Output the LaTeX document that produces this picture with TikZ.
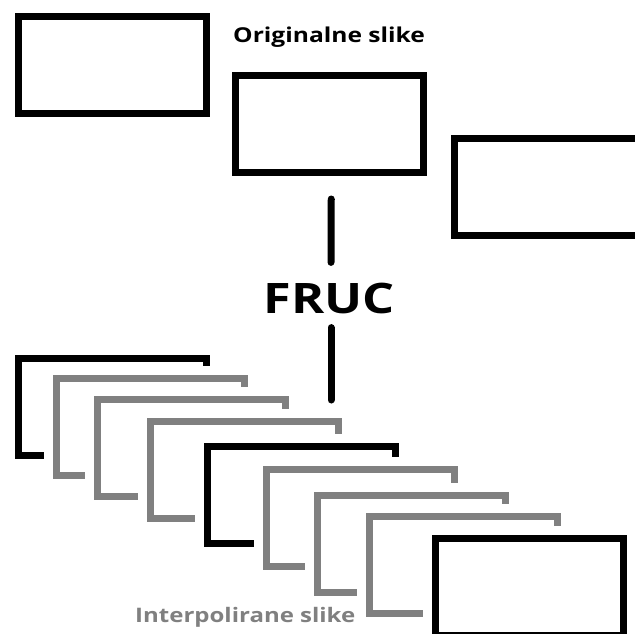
\documentclass[tikz,border=0pt]{standalone}
\usepackage{fontspec}
\setsansfont{Open Sans}[FakeStretch=1.2]
\definecolor{sivo}{RGB}{128,128,128}
\begin{document}
\begin{tikzpicture}[x=1pt,y=-1pt,
  okvir/.style={rectangle,inner sep=0pt,minimum width=187.5pt,minimum height=97pt,
    line width=7pt,fill=white,preaction={draw=white,line width=26pt}},
  crni/.style={okvir,draw=black},
  sivi/.style={okvir,draw=sivo},
  natpis/.style={font=\sffamily\bfseries,inner sep=0pt}]
\clip (0,0) rectangle (635,634);
\fill[white] (0,0) rectangle (635,634);
% originalne slike
\node[crni] (o1) at (112.25,65) {};
\node[crni] (o2) at (329.25,124) {};
\node[crni] (o3) at (548.25,187) {};
\node[natpis,anchor=base west,font=\sffamily\bfseries\fontsize{20.5}{24}\selectfont] (t1) at (233,43) {Originalne slike};
\node[natpis,anchor=base,font=\sffamily\bfseries\fontsize{42}{48}\selectfont] (fruc) at (329,313) {FRUC};
\coordinate (kraj) at (331,400);
\draw[line width=7pt,line cap=round] ([xshift=2pt,yshift=-23pt]o2.south) -- ([xshift=2pt,yshift=20pt]fruc.north);
\draw[line width=7pt,line cap=round] ([xshift=2pt,yshift=-14pt]fruc.south) -- (kraj);
% interpolirane slike
\node[crni] (i1) at (112.25,407) {};
\node[sivi] (i2) at (150.25,427) {};
\node[sivi] (i3) at (191.25,448) {};
\node[sivi] (i4) at (244.25,470) {};
\node[crni] (i5) at (301.25,495) {};
\node[sivi] (i6) at (360.25,518) {};
\node[sivi] (i7) at (411.25,544) {};
\node[sivi] (i8) at (463.25,565) {};
\node[crni] (i9) at (529.25,587) {};
\node[natpis,anchor=base west,text=sivo,font=\sffamily\bfseries\fontsize{20}{24}\selectfont] (t2) at (135,622) {Interpolirane slike};
\end{tikzpicture}
\end{document}
